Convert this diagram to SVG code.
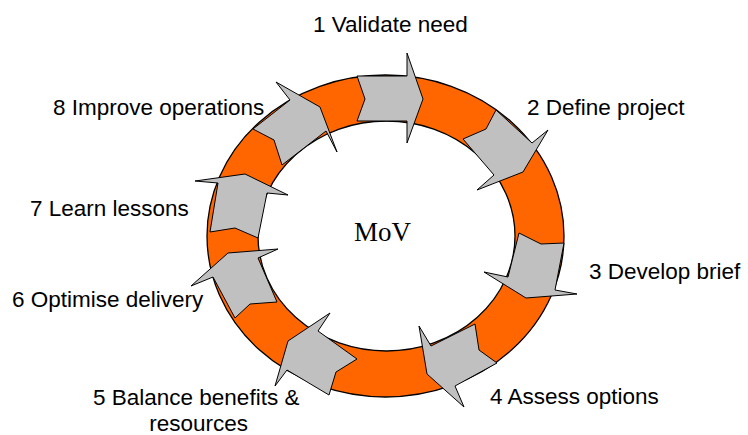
<svg xmlns="http://www.w3.org/2000/svg" width="748" height="435" viewBox="0 0 748 435">
<style>
.lbl{font-family:"Liberation Sans",Arial,sans-serif;font-size:22.5px;fill:#000}
.mov{font-family:"Liberation Serif","Times New Roman",serif;font-size:27px;fill:#000}
.arr{fill:#C0C0C0;stroke:#000;stroke-width:1;stroke-linejoin:miter}
.ring{fill:#FF6600;stroke:#000;stroke-width:1.3;fill-rule:evenodd}
</style>
<rect width="748" height="435" fill="#fff"/>
<g id="ring">
<path class="ring" d="M207,236 A178.5,161 0 1 0 564,236 A178.5,161 0 1 0 207,236 Z M258,236 A128.5,115 0 1 0 515,236 A128.5,115 0 1 0 258,236 Z"/>
</g>
<g id="center"><text class="mov" x="382.5" y="241" text-anchor="middle">MoV</text></g>
<g id="connectors">
<polygon id="a1" class="arr" points="357,76 407,76 407,53 423,99 407,143 407,121 357,121 365,99"/>
<polygon id="a2" class="arr" points="496,110 532,143 548,130 523,172 477,190 494,175 463,139 486,129"/>
<polygon id="a3" class="arr" points="564,243 555,290 577,294 526,298 484,272 508,277 519,233 541,244"/>
<polygon id="a4" class="arr" points="497,363 455,386 464,407 427,374 419,326 431,346 475,324 479,350"/>
<polygon id="a5" class="arr" points="357,359 318,331 330,313 288,341 275,386 287,370 329,395 336,372"/>
<polygon id="a6" class="arr" points="277,302 258,258 278,249 228,253 191,286 213,277 235,318 250,304"/>
<polygon id="a7" class="arr" points="258,238 267,193 288,195 245,174 195,181 218,183 210,232 235,228"/>
<polygon id="a8" class="arr" points="253,129 290,100 276,82 320,107 337,152 326,131 282,165 274,140"/>
</g>
<g id="n1"><text class="lbl" x="313" y="32">1 Validate need</text></g>
<g id="n2"><text class="lbl" x="527" y="115">2 Define project</text></g>
<g id="n3"><text class="lbl" x="589" y="279">3 Develop brief</text></g>
<g id="n4"><text class="lbl" x="490" y="404">4 Assess options</text></g>
<g id="n5"><text class="lbl" x="93" y="405">5 Balance benefits &amp;</text><text class="lbl" x="248" y="431" text-anchor="end">resources</text></g>
<g id="n6"><text class="lbl" x="12" y="307">6 Optimise delivery</text></g>
<g id="n7"><text class="lbl" x="30" y="216">7 Learn lessons</text></g>
<g id="n8"><text class="lbl" x="53" y="115">8 Improve operations</text></g>
</svg>
